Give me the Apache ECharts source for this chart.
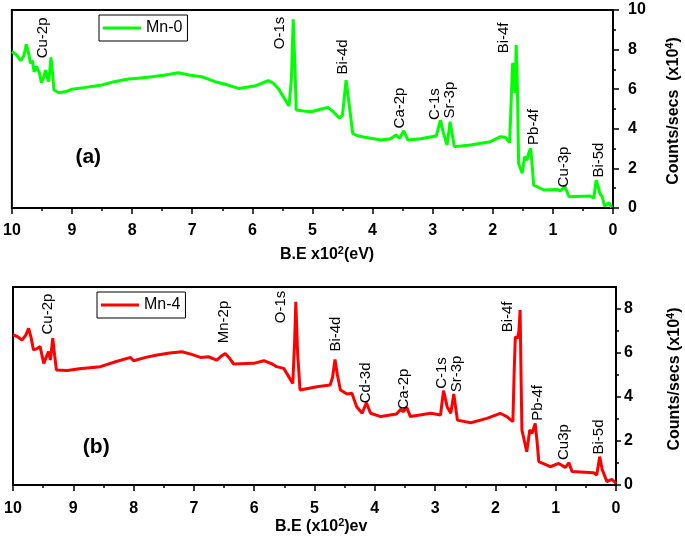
<!DOCTYPE html>
<html>
<head>
<meta charset="utf-8">
<script src="https://cdn.jsdelivr.net/npm/echarts@6/dist/echarts.min.js"></script>
<style>
  html, body { margin: 0; padding: 0; background: #fff; }
  #chart { width: 685px; height: 543px; }
</style>
</head>
<body>
<div id="chart"></div>
<script>
// binding energy (x10^2 eV) and counts/secs (x10^4)
const MN0_BE = [10.00, 9.93, 9.85, 9.80, 9.76, 9.72, 9.69, 9.66, 9.63, 9.59, 9.56, 9.54, 9.51, 9.47, 9.44, 9.41, 9.39, 9.37, 9.35, 9.33, 9.30, 9.22, 9.10, 9.00, 8.80, 8.50, 8.30, 8.06, 7.90, 7.67, 7.45, 7.23, 7.05, 6.84, 6.62, 6.45, 6.23, 5.96, 5.80, 5.73, 5.65, 5.57, 5.48, 5.39, 5.35, 5.32, 5.29, 5.27, 5.15, 5.02, 4.85, 4.74, 4.65, 4.55, 4.50, 4.44, 4.40, 4.33, 4.25, 4.13, 3.86, 3.70, 3.61, 3.55, 3.48, 3.41, 3.20, 3.02, 2.94, 2.87, 2.82, 2.79, 2.76, 2.71, 2.64, 2.37, 2.04, 1.87, 1.79, 1.72, 1.70, 1.68, 1.67, 1.65, 1.63, 1.61, 1.59, 1.57, 1.51, 1.47, 1.43, 1.40, 1.37, 1.34, 1.32, 1.15, 0.93, 0.88, 0.80, 0.73, 0.38, 0.32, 0.28, 0.24, 0.22, 0.18, 0.14, 0.07, 0.02]
const MN0_CPS = [7.90, 7.75, 7.44, 7.70, 8.27, 7.80, 7.30, 7.45, 6.88, 7.15, 7.22, 6.80, 6.33, 6.60, 6.97, 6.60, 6.38, 6.90, 7.61, 7.00, 5.96, 5.82, 5.88, 6.00, 6.08, 6.21, 6.38, 6.52, 6.55, 6.63, 6.72, 6.83, 6.72, 6.63, 6.38, 6.25, 6.04, 6.16, 6.35, 6.43, 6.30, 6.04, 5.60, 5.15, 6.50, 9.53, 7.00, 4.95, 4.90, 4.86, 5.00, 5.08, 4.85, 4.53, 4.70, 6.46, 5.50, 3.77, 3.65, 3.57, 3.43, 3.50, 3.69, 3.52, 3.90, 3.43, 3.50, 3.60, 3.64, 4.44, 3.77, 3.80, 3.18, 4.36, 3.10, 3.18, 3.35, 3.60, 3.57, 3.30, 3.23, 6.50, 7.31, 7.20, 5.80, 8.23, 6.00, 2.25, 1.75, 2.59, 2.42, 2.80, 3.01, 2.00, 1.16, 0.91, 0.94, 0.87, 1.08, 0.57, 0.61, 0.49, 1.41, 1.00, 0.74, 0.57, 0.10, 0.27, 0.03]

const MN4_BE = [10.00, 9.93, 9.85, 9.79, 9.74, 9.70, 9.66, 9.60, 9.55, 9.52, 9.49, 9.45, 9.41, 9.38, 9.34, 9.31, 9.28, 9.10, 8.90, 8.55, 8.30, 8.05, 8.00, 7.80, 7.61, 7.40, 7.20, 7.05, 6.89, 6.76, 6.62, 6.55, 6.48, 6.42, 6.34, 6.01, 5.84, 5.70, 5.63, 5.51, 5.36, 5.33, 5.31, 5.28, 5.24, 4.96, 4.74, 4.70, 4.66, 4.62, 4.57, 4.46, 4.38, 4.30, 4.21, 4.14, 4.07, 3.90, 3.64, 3.57, 3.53, 3.47, 3.41, 3.07, 2.91, 2.86, 2.80, 2.74, 2.69, 2.63, 2.41, 2.14, 1.92, 1.81, 1.71, 1.69, 1.67, 1.63, 1.61, 1.59, 1.575, 1.56, 1.48, 1.43, 1.39, 1.34, 1.31, 1.28, 1.09, 0.95, 0.84, 0.78, 0.73, 0.37, 0.32, 0.27, 0.23, 0.20, 0.15, 0.07, 0.00]
const MN4_CPS = [6.82, 6.75, 6.59, 6.80, 7.12, 6.70, 6.14, 6.20, 6.29, 5.90, 5.53, 5.80, 6.06, 5.68, 6.67, 5.90, 5.23, 5.20, 5.28, 5.38, 5.60, 5.80, 5.65, 5.80, 5.91, 6.00, 6.06, 5.95, 5.80, 5.83, 5.68, 5.85, 5.98, 5.80, 5.50, 5.53, 5.65, 5.50, 5.38, 5.30, 4.62, 6.50, 8.33, 6.00, 4.32, 4.47, 4.55, 4.90, 5.71, 5.00, 4.32, 4.14, 4.17, 3.56, 3.26, 3.74, 3.26, 3.11, 3.23, 3.44, 3.33, 3.53, 3.11, 3.26, 3.18, 4.29, 3.56, 3.26, 4.14, 2.95, 2.83, 3.03, 3.26, 3.11, 2.88, 5.00, 6.74, 6.67, 7.00, 7.95, 5.00, 2.50, 1.51, 2.50, 2.35, 2.80, 2.00, 1.06, 0.83, 0.98, 0.80, 1.01, 0.61, 0.56, 0.45, 1.29, 0.71, 0.76, 0.15, 0.26, 0.08]

const Y_TICKS_B = [0, 2, 4, 6, 8]
const Y_MINOR_B = [1, 3, 5, 7]

// peak labels: [name, B.E, counts] where the label is centred
const PEAKS_A = [
  ['Cu-2p', 9.49, 8.59], ['O-1s', 5.55, 8.84], ['Bi-4d', 4.50, 7.63], ['Ca-2p', 3.54, 5.05],
  ['C-1s', 2.96, 5.25], ['Sr-3p', 2.71, 5.45], ['Bi-4f', 1.82, 8.59], ['Pb-4f', 1.32, 4.09],
  ['Cu-3p', 0.82, 2.07], ['Bi-5d', 0.24, 2.42],
]
const PEAKS_B = [
  ['Cu-2p', 9.43, 7.77], ['Mn-2p', 6.51, 7.41], ['O-1s', 5.55, 8.09], ['Bi-4d', 4.64, 6.86],
  ['Cd-3d', 4.14, 4.64], ['Ca-2p', 3.52, 4.36], ['C-1s', 2.88, 5.09], ['Sr-3p', 2.64, 5.05],
  ['Bi-4f', 1.79, 7.64], ['Pb-4f', 1.29, 3.73], ['Cu3p', 0.86, 1.95], ['Bi-5d', 0.28, 2.18],
]

const FONT = '"Liberation Sans", Arial, sans-serif'
const zip = (xs, ys) => xs.map((x, i) => [x, ys[i]])

function peakMarks(peaks, tag, tagPos) {
  const data = peaks.map(([name, x, y]) => ({ name, coord: [x, y] }))
  data.push({
    name: tag,
    coord: tagPos,
    label: { rotate: 0, fontSize: 21, fontWeight: 'bold' },
  })
  return {
    symbol: 'circle',
    symbolSize: 0,
    silent: true,
    animation: false,
    label: {
      show: true,
      position: 'inside',
      rotate: 90,
      formatter: (p) => p.name,
      color: '#000',
      fontSize: 15,
      fontFamily: FONT,
    },
    data,
  }
}

function xAxis(gridIndex, margin) {
  return {
    type: 'value',
    gridIndex,
    inverse: true,
    min: 0,
    max: 10,
    interval: 1,
    axisLine: { onZero: false, lineStyle: { color: '#000', width: 2 } },
    axisTick: { length: 6, lineStyle: { color: '#000', width: 1.5 } },
    minorTick: { show: true, splitNumber: 2, length: 3, lineStyle: { color: '#000', width: 1.5 } },
    axisLabel: { margin, color: '#000', fontSize: 16, fontWeight: 'bold', fontFamily: FONT },
    splitLine: { show: false },
  }
}

const axisBold = { color: '#000', fontSize: 16, fontWeight: 'bold', fontFamily: FONT }
const richName = {
  a: { fontSize: 16, fontWeight: 'bold', fontFamily: FONT, fill: '#000', lineHeight: 18, verticalAlign: 'bottom' },
  s: { fontSize: 11, fontWeight: 'bold', fontFamily: FONT, fill: '#000', lineHeight: 18, verticalAlign: 'top' },
}

function legendBox(name, left, top) {
  return {
    data: [name],
    left,
    top,
    padding: [5, 5, 5, 4],
    borderColor: '#000',
    borderWidth: 1,
    icon: 'rect',
    itemWidth: 38,
    itemHeight: 3,
    itemGap: 5,
    textStyle: { color: '#000', fontSize: 16, fontFamily: FONT },
  }
}

const chart = echarts.init(document.getElementById('chart'), null, { renderer: 'canvas' })
chart.setOption({
  animation: false,
  backgroundColor: '#fff',
  grid: [
    { left: 10, right: 72, top: 10, bottom: 335, show: true, borderColor: '#000', borderWidth: 2 },
    { left: 13, right: 69, top: 287, bottom: 58, show: true, borderColor: '#000', borderWidth: 2 },
  ],
  xAxis: [xAxis(0, 15), xAxis(1, 16)],
  yAxis: [
    {
      type: 'value',
      gridIndex: 0,
      position: 'right',
      min: 0,
      max: 10,
      interval: 2,
      axisLine: { show: true, lineStyle: { color: '#000', width: 2 } },
      axisTick: { show: true, length: 6, lineStyle: { color: '#000', width: 1.5 } },
      minorTick: { show: true, splitNumber: 2, length: 3, lineStyle: { color: '#000', width: 1.5 } },
      axisLabel: { margin: 15, ...axisBold },
      splitLine: { show: false },
    },
    {
      type: 'value',
      gridIndex: 1,
      position: 'right',
      min: 0,
      max: 9,
      axisLine: { show: true, lineStyle: { color: '#000', width: 2 } },
      axisTick: { show: true, length: 5, customValues: Y_TICKS_B, lineStyle: { color: '#000', width: 1.5 } },
      axisLabel: { margin: 8, customValues: Y_TICKS_B, ...axisBold },
      splitLine: { show: false },
    },
    {
      type: 'value',
      gridIndex: 1,
      position: 'right',
      min: 0,
      max: 9,
      axisLine: { show: false },
      axisTick: { show: true, length: 3, customValues: Y_MINOR_B, lineStyle: { color: '#000', width: 1.5 } },
      axisLabel: { show: false },
      splitLine: { show: false },
    },
  ],
  legend: [legendBox('Mn-0', 99, 15), legendBox('Mn-4', 97, 292)],
  graphic: [
    { type: 'text', left: 280, top: 245, style: { text: '{a|B.E x10}{s|2}{a|(eV)}', rich: richName } },
    { type: 'text', left: 275, top: 517, style: { text: '{a|B.E (x10}{s|2}{a|)ev}', rich: richName } },
    {
      type: 'text',
      x: 673,
      y: 111,
      rotation: Math.PI / 2,
      style: { text: '{a|Counts/secs  (x10}{s|4}{a|)}', align: 'center', verticalAlign: 'middle', rich: richName },
    },
    {
      type: 'text',
      x: 674,
      y: 379,
      rotation: Math.PI / 2,
      style: { text: '{a|Counts/secs (x10}{s|4}{a|)}', align: 'center', verticalAlign: 'middle', rich: richName },
    },
  ],
  series: [
    {
      name: 'Mn-0',
      type: 'line',
      xAxisIndex: 0,
      yAxisIndex: 0,
      data: zip(MN0_BE, MN0_CPS),
      symbol: 'none',
      lineStyle: { color: '#00ff00', width: 3 },
      itemStyle: { color: '#00ff00' },
      markPoint: peakMarks(PEAKS_A, '(a)', [8.73, 2.58]),
    },
    {
      name: 'Mn-4',
      type: 'line',
      xAxisIndex: 1,
      yAxisIndex: 1,
      data: zip(MN4_BE, MN4_CPS),
      symbol: 'none',
      lineStyle: { color: '#ff0000', width: 3 },
      itemStyle: { color: '#ff0000' },
      markPoint: peakMarks(PEAKS_B, '(b)', [8.62, 1.73]),
    },
  ],
})
</script>
</body>
</html>
